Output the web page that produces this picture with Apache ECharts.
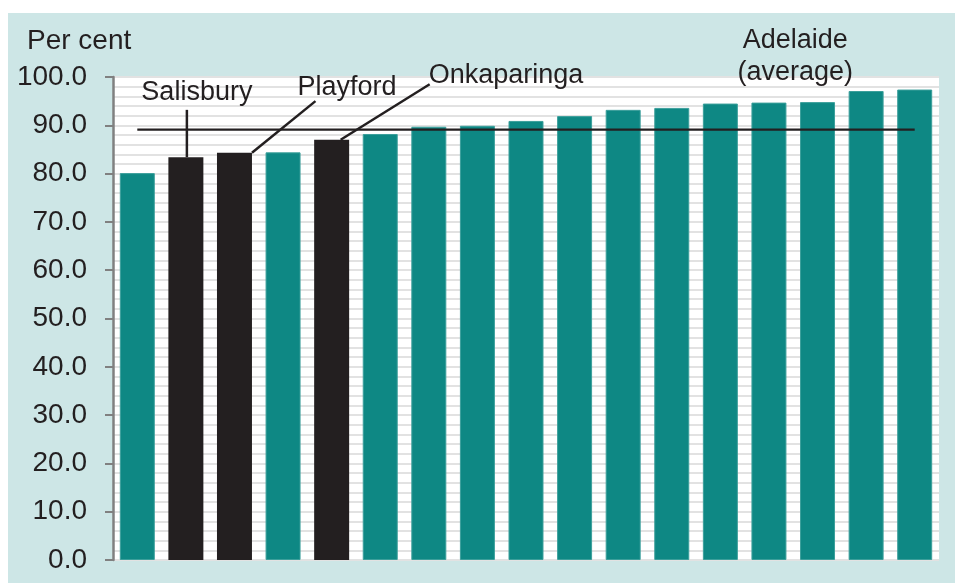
<!DOCTYPE html>
<html><head><meta charset="utf-8">
<script src="https://cdn.jsdelivr.net/npm/echarts@6.0.0/dist/echarts.min.js"></script>
<style>
html,body{margin:0;padding:0;background:#ffffff;width:955px;height:583px;overflow:hidden}
#panel{position:absolute;left:8px;top:13px;width:947px;height:570px;background:#cde6e6}
#chart{width:947px;height:570px}
</style>
</head><body><div id="panel"><div id="chart"></div></div>
<script>
// ---- data ----
const categories = ['LGA 1','Salisbury','Playford','LGA 4','Onkaparinga','LGA 6','LGA 7','LGA 8','LGA 9','LGA 10','LGA 11','LGA 12','LGA 13','LGA 14','LGA 15','LGA 16','LGA 17'];
const values = [80.1, 83.4, 84.3, 84.4, 87.0, 88.2, 89.7, 89.9, 90.9, 91.9, 93.2, 93.6, 94.5, 94.7, 94.8, 97.1, 97.4];
const highlighted = ['Salisbury', 'Playford', 'Onkaparinga'];
const adelaideAverage = 89.1;
const yMin = 0, yMax = 100, yInterval = 10;
const yAxisTitle = 'Per cent';
const averageLabel = 'Adelaide\n(average)';

const TEAL = '#0e8884', BLACK = '#231f20', INK = '#231f20', GRID = '#e2e2e2';
const FONT = 'Liberation Sans, Arial, Helvetica, sans-serif';

const chart = echarts.init(document.getElementById('chart'), null, {renderer: 'canvas'});
chart.setOption({
  animation: false,
  backgroundColor: 'transparent',
  grid: {left: 105, right: 16, top: 64, bottom: 23, show: true, backgroundColor: '#ffffff', borderWidth: 0, containLabel: false, outerBoundsMode: 'none'},
  xAxis: {
    type: 'category', data: categories, boundaryGap: true,
    axisLine: {show: false}, axisTick: {show: false}, axisLabel: {show: false}, splitLine: {show: false}
  },
  yAxis: {
    type: 'value', min: yMin, max: yMax, interval: yInterval,
    axisLine: {show: true, lineStyle: {color: '#808080', width: 2.5}},
    axisTick: {show: true, length: 8, lineStyle: {color: '#808080', width: 2}},
    axisLabel: {formatter: v => v.toFixed(1), fontSize: 28, fontFamily: FONT, color: INK, margin: 26},
    splitLine: {show: true, lineStyle: {color: GRID, width: 2}},
    minorTick: {show: false, splitNumber: 5},
    minorSplitLine: {show: true, lineStyle: {color: GRID, width: 2}}
  },
  series: [
    {
      type: 'bar', barWidth: '72%',
      data: values.map((v, i) => ({
        value: v,
        itemStyle: highlighted.includes(categories[i])
          ? {color: BLACK}
          : {color: TEAL, borderColor: '#3b9f9b', borderWidth: 1}
      })),
      z: 2
    },
    {
      type: 'line', data: categories.map(() => adelaideAverage),
      symbol: 'none', lineStyle: {color: INK, width: 2.2}, z: 3
    }
  ]
});

function px(cat, val) { return chart.convertToPixel({gridIndex: 0}, [cat, val]); }
const band = px(1, 0)[0] - px(0, 0)[0];
const half = band * 0.72 / 2;
const iS = categories.indexOf('Salisbury');
const iP = categories.indexOf('Playford');
const iO = categories.indexOf('Onkaparinga');

const pS0 = px(iS, values[iS]), pS1 = px(iS, 93.2);
const pP0 = px(iP, values[iP]), pP1 = px(iP, 95.0);
const pO0 = px(iO, values[iO]), pO1 = px(iO, 98.5);
const lineStyle = {stroke: INK, lineWidth: 2.5};
const txt = (text, x, y, align) => ({
  type: 'text', x: x, y: y, z: 100,
  style: {text: text, fill: INK, font: '27px ' + FONT, align: align, textAlign: align, verticalAlign: 'middle', textVerticalAlign: 'middle', lineHeight: 32}
});
const avgX = (px(13, 0)[0] + px(14, 0)[0]) / 2;

chart.setOption({
  graphic: [
    {type: 'line', z: 100, shape: {x1: pS0[0] + 1, y1: pS0[1], x2: pS1[0] + 1, y2: pS1[1]}, style: lineStyle},
    {type: 'line', z: 100, shape: {x1: pP0[0] + half, y1: pP0[1], x2: pP1[0] + 81, y2: pP1[1]}, style: lineStyle},
    {type: 'line', z: 100, shape: {x1: pO0[0] + 9, y1: pO0[1], x2: pO1[0] + 98, y2: pO1[1]}, style: lineStyle},
    txt('Salisbury', pS0[0] + 11, px(iS, 96.8)[1], 'center'),
    txt('Playford', pP0[0] + 63, px(iP, 97.8)[1], 'left'),
    txt('Onkaparinga', pO0[0] + 97, px(iO, 100.2)[1], 'left'),
    txt(averageLabel, avgX + 2, px(13, 100)[1] - 20, 'center'),
    {type: 'text', left: 19, top: 14, z: 100, style: {text: yAxisTitle, fill: INK, font: '28px ' + FONT}}
  ]
});
</script>
</body></html>
